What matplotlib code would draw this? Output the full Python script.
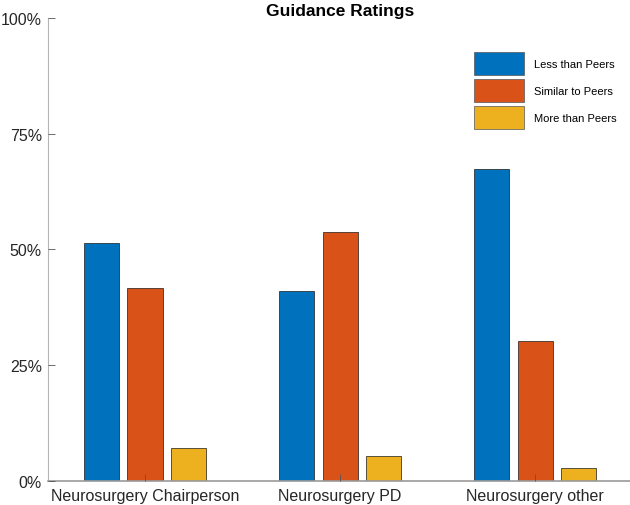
import numpy as np
from matplotlib import pyplot as plt
from matplotlib.patches import Patch

plt.rcParams['font.family'] = ['Liberation Sans', 'DejaVu Sans']

# data (percent of respondents)
groups = ['Neurosurgery Chairperson', 'Neurosurgery PD', 'Neurosurgery other']
series = ['Less than Peers', 'Similar to Peers', 'More than Peers']
less_than = [51.4, 41.1, 67.3]
similar_to = [41.7, 53.7, 30.2]
more_than = [7.1, 5.4, 2.7]
yticks = [0, 25, 50, 75, 100]
ytick_labels = ['0%', '25%', '50%', '75%', '100%']

colors = ['#0072BD', '#D95319', '#EDB120']

fig = plt.figure(figsize=(6.3, 5.06), dpi=100)
ax = fig.add_axes([0.0754, 0.048, 0.929, 0.914])

x = np.arange(1, len(groups) + 1)
width = 0.18
step = 0.224
for i, vals in enumerate([less_than, similar_to, more_than]):
    ax.bar(x + (i - 1) * step, vals, width, color=colors[i],
           edgecolor='#1a1a1a', linewidth=0.5, zorder=1)

ax.set_xlim(0.5, 3.5)
ax.set_ylim(0, 100)
ax.set_xticks(x)
ax.set_xticklabels(groups)
ax.set_yticks(yticks)
ax.set_yticklabels(ytick_labels)

ax.tick_params(axis='both', direction='in', length=5, width=0.6,
               colors='#555555', labelcolor='#262626', labelsize=11.5)
ax.tick_params(axis='x', pad=5.5)
ax.tick_params(axis='y', pad=4)

for s in ['top', 'right']:
    ax.spines[s].set_visible(False)
ax.spines['left'].set_color('#b5b5b5')
ax.spines['left'].set_linewidth(0.8)
ax.spines['bottom'].set_color('#9a9a9a')
ax.spines['bottom'].set_linewidth(1.2)
ax.set_axisbelow(False)

ax.set_title('Guidance Ratings', fontsize=12.5, fontweight='bold', pad=2)

# legend boxes ~50x23 px, no frame
handles = [Patch(facecolor=c, edgecolor='#555555', linewidth=0.5) for c in colors]
fig.legend(handles, series, loc='upper left',
           bbox_to_anchor=(474 / 630, 1 - 52.7 / 506),
           frameon=False, fontsize=8, borderpad=0, borderaxespad=0,
           handlelength=4.5, handleheight=2.81, labelspacing=0.36,
           handletextpad=0.9)

fig.savefig('out.png', dpi=100)
